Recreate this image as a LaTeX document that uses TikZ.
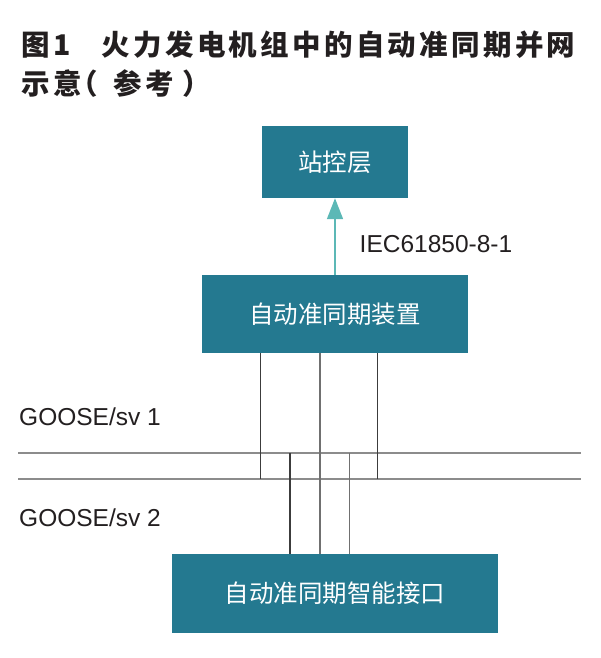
\documentclass[tikz,border=0pt]{standalone}
\usepackage{fontspec}
\usetikzlibrary{arrows.meta}
\setmainfont{Liberation Sans}
\newfontfamily\cjk{Noto Sans CJK SC}
\definecolor{boxblue}{RGB}{36,121,144}
\definecolor{arrowteal}{RGB}{92,184,182}
\definecolor{inkdark}{RGB}{35,31,32}
\definecolor{busgray}{RGB}{140,140,140}
\definecolor{wiredark}{RGB}{60,60,60}
\newcommand\ttlsp{\hspace{3.3pt}}
\begin{document}
\begin{tikzpicture}[x=1pt,y=-1pt]
\useasboundingbox (0,0) rectangle (600,658);
\tikzset{
  boxstyle/.style={fill=boxblue, draw=none, text=white, inner sep=0pt,
    font=\cjk\fontsize{24.5}{24.5}\selectfont},
  titlestyle/.style={anchor=base west, inner sep=0pt, text=inkdark,
    font=\cjk\bfseries\fontsize{28.5}{28.5}\selectfont},
  labelstyle/.style={anchor=base west, inner sep=0pt, text=inkdark,
    font=\fontsize{24.5}{24.5}\selectfont},
  bus/.style={busgray, line width=1.3pt},
  wire/.style={wiredark, line width=1.1pt},
  wiregray/.style={busgray!80!black, line width=1.1pt},
  link/.style={arrowteal, line width=1.6pt, -{Triangle[length=21pt,width=16pt]}}
}
% title
\node[titlestyle] (t1) at (21.5,56) {图\ttlsp 1};
\node[titlestyle] (t2) at (101.5,56) {火\ttlsp 力\ttlsp 发\ttlsp 电\ttlsp 机\ttlsp 组\ttlsp 中\ttlsp 的\ttlsp 自\ttlsp 动\ttlsp 准\ttlsp 同\ttlsp 期\ttlsp 并\ttlsp 网};
\node[titlestyle] (t3) at (21.5,95) {示\ttlsp 意};
\node[titlestyle] (t4) at (69,95) {（};
\node[titlestyle] (t5) at (113.5,95) {参\ttlsp 考};
\node[titlestyle] (t6) at (182,95) {）};
% boxes
\node[boxstyle, minimum width=146pt, minimum height=72pt] (top) at (335,162) {站控层};
\node[boxstyle, minimum width=266pt, minimum height=78pt] (mid) at (335,314) {自动准同期装置};
\node[boxstyle, minimum width=326pt, minimum height=79pt] (bot) at (335,593.5) {自动准同期智能接口};
% arrow
\draw[link] (mid.north) -- (top.south);
\node[labelstyle] (iec) at (359.5,252.7) {IEC61850-8-1};
% buses
\coordinate (b1w) at (18,453);
\coordinate (b1e) at (581,453);
\coordinate (b2w) at (18,479);
\coordinate (b2e) at (581,479);
\draw[bus] (b1w) -- (b1e);
\draw[bus] (b2w) -- (b2e);
\node[labelstyle] (g1) at (19,425) {GOOSE/sv 1};
\node[labelstyle] (g2) at (19,526.7) {GOOSE/sv 2};
% wires from device
\coordinate (v1) at (260.7,353);
\coordinate (v2) at (320,353);
\coordinate (v3) at (377.7,353);
\draw[wire] (v1) -- (v1 |- b2w);
\draw[wiregray] (v2) -- (v2 |- bot.north);
\draw[wire] (v3) -- (v3 |- b2w);
% wires to interface
\coordinate (w1) at (290,453);
\coordinate (w2) at (349.3,453);
\draw[wire] (w1) -- (w1 |- bot.north);
\draw[wiregray] (w2) -- (w2 |- bot.north);
\end{tikzpicture}
\end{document}
